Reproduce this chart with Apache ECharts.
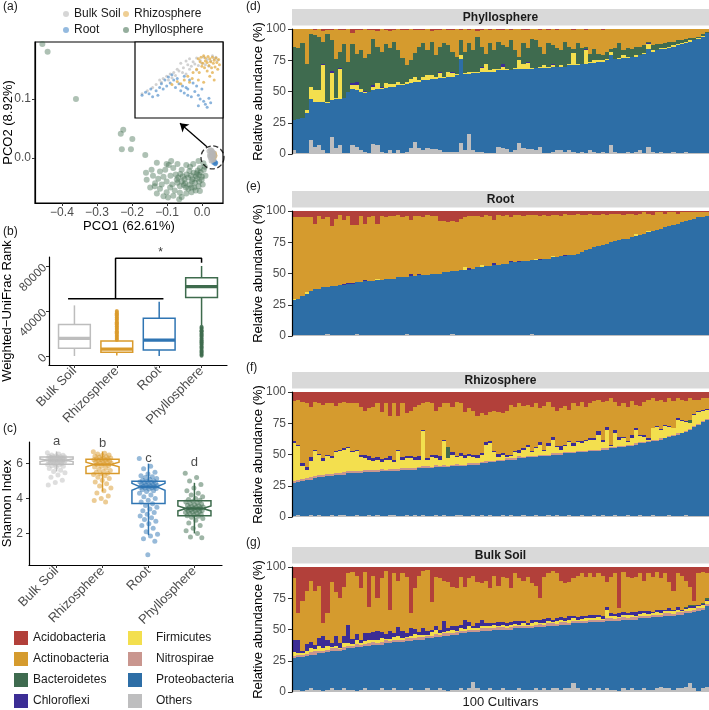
<!DOCTYPE html>
<html>
<head>
<meta charset="utf-8">
<script src="https://cdn.jsdelivr.net/npm/echarts/dist/echarts.min.js"></script>
<style>
  html, body { margin: 0; padding: 0; background: #fff; }
  #chart { width: 709px; height: 710px; }
</style>
</head>
<body>
<div id="chart"></div>
<script>
// ---------- data ----------
const groupNames = ['Bulk Soil', 'Rhizosphere', 'Root', 'Phyllosphere'];

// (a) PCoA coordinates
const phylloPcoa = [
  [-0.456, 0.193], [-0.441, 0.18], [-0.36, 0.1],
  [-0.225, 0.048], [-0.232, 0.041], [-0.199, 0.032], [-0.229, 0.015], [-0.203, 0.015], [-0.162, 0.005],
  [-0.129, -0.008], [-0.101, -0.01], [-0.144, -0.02], [-0.12, -0.023], [-0.082, -0.017], [-0.058, -0.02],
  [-0.034, -0.015], [-0.015, -0.026], [-0.006, -0.017], [0.004, -0.009],
  [-0.158, -0.037], [-0.134, -0.043], [-0.101, -0.04], [-0.072, -0.037], [-0.048, -0.043], [-0.029, -0.04],
  [-0.015, -0.035], [-0.001, -0.037], [-0.148, -0.05], [-0.12, -0.052], [-0.091, -0.05], [-0.063, -0.048],
  [-0.039, -0.052], [-0.01, -0.048], [0.01, -0.03], [-0.129, -0.06], [-0.101, -0.058], [-0.082, -0.064],
  [-0.058, -0.066], [-0.097, -0.067], [-0.063, -0.059], [-0.03, -0.058], [-0.006, -0.056],
  [-0.075, -0.028], [-0.068, -0.033], [-0.062, -0.027], [-0.055, -0.031], [-0.05, -0.036], [-0.044, -0.028],
  [-0.04, -0.033], [-0.035, -0.045], [-0.031, -0.03], [-0.027, -0.036], [-0.024, -0.025], [-0.02, -0.042],
  [-0.017, -0.031], [-0.012, -0.021], [-0.008, -0.029], [-0.004, -0.024], [0.0, -0.032], [0.005, -0.02],
  [0.008, -0.015], [-0.052, -0.046], [-0.046, -0.05], [-0.022, -0.05], [-0.018, -0.055], [-0.07, -0.042],
  [-0.085, -0.045], [-0.09, -0.03], [-0.11, -0.032], [-0.115, -0.045], [-0.105, -0.02], [-0.095, -0.012],
  [-0.088, -0.005], [-0.07, -0.01], [-0.045, -0.012], [-0.025, -0.01], [-0.01, -0.005], [-0.14, -0.03],
  [-0.16, -0.025], [-0.125, -0.035], [-0.078, -0.055], [-0.065, -0.07], [-0.045, -0.06], [-0.11, -0.065],
  [-0.135, -0.048], [0.002, -0.045], [-0.036, -0.022], [-0.058, -0.04], [-0.03, -0.05], [-0.008, -0.04]
];
const bulkPcoa = [[0.02, 0.012], [0.024, 0.014], [0.028, 0.013], [0.022, 0.006], [0.026, 0.008], [0.03, 0.007],
  [0.034, 0.009], [0.024, 0.0], [0.028, 0.002], [0.032, 0.003], [0.036, 0.004], [0.026, -0.005],
  [0.03, -0.004], [0.034, -0.003], [0.022, 0.003], [0.03, 0.011]];
const rhizoPcoa = [[0.036, 0.008], [0.038, 0.004], [0.035, 0.0]];
const rootPcoa = [[0.036, -0.006], [0.04, -0.008], [0.038, -0.01], [0.033, -0.008]];

// (a) inset: zoom of the soil / rhizosphere / root cluster
const insetBulk = [[52, 72], [58, 75], [62, 78], [66, 74], [70, 79], [74, 76], [78, 80], [82, 77], [86, 75], [90, 78],
  [60, 70], [55, 66], [64, 68], [68, 71], [72, 69], [76, 72], [80, 70], [84, 68], [48, 64], [44, 60],
  [40, 58], [50, 62], [36, 55], [32, 52], [28, 50], [46, 56], [54, 60], [62, 64], [70, 63], [88, 82],
  [92, 80], [94, 76], [20, 40], [14, 36], [8, 32], [24, 44], [30, 47], [38, 50], [42, 53], [58, 58]];
const insetRhizo = [[72, 78], [75, 80], [78, 82], [80, 79], [83, 81], [85, 78], [88, 80], [90, 76], [92, 79], [95, 77],
  [74, 74], [77, 72], [80, 75], [82, 73], [86, 74], [89, 72], [93, 73], [96, 70], [76, 68], [79, 66],
  [84, 69], [87, 66], [91, 67], [94, 64], [70, 64], [66, 60], [73, 60], [82, 62], [88, 60], [60, 55],
  [65, 52], [72, 50], [78, 47], [85, 55], [90, 50], [56, 50], [48, 48], [42, 44], [52, 45], [62, 47]];
const insetRoot = [[8, 30], [12, 34], [16, 32], [20, 28], [24, 36], [28, 40], [32, 38], [36, 42], [30, 45], [40, 46],
  [44, 50], [48, 52], [38, 54], [42, 57], [34, 50], [50, 45], [54, 42], [58, 40], [46, 40], [52, 36],
  [56, 33], [60, 30], [64, 28], [68, 35], [72, 30], [74, 25], [78, 22], [80, 18], [82, 14], [84, 26],
  [76, 38], [70, 42], [66, 46], [62, 50], [56, 55], [60, 38], [72, 16], [86, 20], [26, 30], [18, 38]];

// (b) Weighted-UniFrac rank: [lower whisker, Q1, median, Q3, upper whisker]
const unifracBox = [
  [0, 7000, 15700, 28000, 45000],
  [500, 3300, 6200, 13300, 14000],
  [0, 5300, 14200, 33500, 48300],
  [27000, 52100, 61600, 69600, 80000]
];
const rhizoUnifracOut = [14200, 15100, 16000, 17200, 18100, 19000, 20300, 21100, 22000, 23400, 24200, 25100, 26300,
  27000, 28200, 29100, 30000, 31200, 32400, 33100, 34300, 35000, 36200, 37100, 38000, 39200, 40100];
const phylloUnifracOut = [200, 1100, 2000, 3200, 4100, 5000, 6200, 7300, 8100, 9000, 10200, 11100, 12300, 13000,
  14100, 15200, 16000, 17300, 18200, 19100, 20000, 21300, 22100, 23000, 24200, 25100, 26000];

// (c) Shannon index
const bulkShannon = [6.62, 6.55, 6.5, 6.48, 6.45, 6.42, 6.4, 6.4, 6.38, 6.36, 6.35, 6.33, 6.32, 6.3, 6.28, 6.27,
  6.25, 6.24, 6.22, 6.21, 6.2, 6.19, 6.18, 6.16, 6.15, 6.13, 6.12, 6.1, 6.08, 6.06, 6.05, 6.03, 6.0, 5.98,
  5.95, 5.92, 5.88, 5.85, 5.8, 5.72, 5.62, 5.55, 5.48, 5.35, 5.22, 5.05, 4.92, 4.78];
const rhizoShannon = [6.68, 6.6, 6.55, 6.5, 6.46, 6.42, 6.4, 6.36, 6.33, 6.3, 6.28, 6.26, 6.24, 6.22, 6.2, 6.18,
  6.15, 6.12, 6.1, 6.08, 6.05, 6.02, 5.98, 5.95, 5.9, 5.85, 5.8, 5.74, 5.68, 5.6, 5.55, 5.5, 5.45, 5.42,
  5.38, 5.3, 5.22, 5.15, 5.05, 4.95, 4.85, 4.72, 4.6, 4.45, 4.32, 4.15, 4.0, 3.88, 3.8];
const rootShannon = [6.3, 5.85, 5.7, 5.5, 5.4, 5.3, 5.25, 5.2, 5.15, 5.1, 5.05, 5.0, 4.98, 4.95, 4.92, 4.9, 4.88,
  4.85, 4.82, 4.8, 4.78, 4.75, 4.72, 4.7, 4.68, 4.66, 4.64, 4.62, 4.6, 4.57, 4.55, 4.5, 4.45, 4.4, 4.3,
  4.2, 4.1, 4.0, 3.9, 3.8, 3.7, 3.6, 3.5, 3.4, 3.3, 3.2, 3.1, 3.0, 2.9, 2.8, 2.7, 2.55, 2.45, 2.3, 2.1,
  1.95, 1.85, 1.7, 1.55, 0.78];
const phylloShannon = [5.45, 5.2, 5.0, 4.8, 4.6, 4.45, 4.3, 4.2, 4.1, 4.0, 3.95, 3.9, 3.85, 3.8, 3.76, 3.72, 3.68,
  3.65, 3.62, 3.58, 3.55, 3.52, 3.5, 3.47, 3.45, 3.43, 3.4, 3.38, 3.35, 3.32, 3.3, 3.27, 3.25, 3.22, 3.2,
  3.17, 3.14, 3.1, 3.06, 3.02, 2.98, 2.92, 2.85, 2.75, 2.6, 2.45, 2.3, 2.15, 2.0, 1.8, 1.75];
// [lower whisker, Q1, median, Q3, upper whisker, notch half-height]
const shannonBox = [
  [5.55, 5.96, 6.19, 6.38, 6.7, 0.07],
  [4.4, 5.43, 5.95, 6.25, 6.7, 0.13],
  [1.9, 3.71, 4.67, 4.99, 6.0, 0.2],
  [2.0, 3.01, 3.43, 3.87, 4.9, 0.14]
];
const shannonLetters = ['a', 'b', 'c', 'd'];
const shannonLetterY = [7.3, 7.18, 6.32, 6.09];

// (d)-(g) relative abundance, 100 cultivars each (Others / Acidobacteria etc. = band thickness, *Top = upper band edge)
const cultivars = Array.from({ length: 100 }, (_, i) => 'Cultivar ' + (i + 1));

const phylloOthers = [3,1,0.5,1,11,6,7,3,1,14, 5,7,1,1,7,6,3,2,1,8, 7,2,1,3,1,3,0.5,2,5,10,
  5,3,5,4,4,3,2,2,2,2, 9,3,16,3,2,2,1,1,1,6, 5,4,2,3,9,5,4,4,3,6, 1,0.5,2,3,3,2,3,2,1,2,
  1,3,2,1,2,1,7,2,1,1, 2,1,2,3,1,6,2,1,2,1, 1,2,1,1,2,1,1,1,0.5,1];
const phylloProteoTop = [27,28,29,33,44,42,42,42,41,43, 44,44,45,50,52,51,50,49,50,51,
  52,52,53,54,54,55,55,56,57,58, 58,59,59,60,60,61,61,62,62,63, 76,64,64,65,65,66,66,66,66,67,
  67,67,67,68,68,68,68,68,69,69, 69,69,70,70,70,70,71,71,71,72, 72,73,73,74,74,75,79,76,76,77,
  77,78,78,79,80,84,82,83,84,84, 85,86,87,88,89,90,91,92,94,97];
const phylloFirm = [0,0,0,2,10,9,9,29,1,22, 1,24,0,0,3,4,2,1,0,3, 5,1,4,2,2,3,1,2,3,4,
  1,3,4,3,2,4,1,4,3,1, 3,1,2,1,1,3,6,1,2,1, 3,1,0,1,7,4,5,1,0,1, 2,1,1,0,1,0,1,10,1,0,
  11,1,2,1,1,1,3,0,1,2, 1,0,1,0,1,4,1,0,1,1, 1,1,1,1,1,1,0,1,0.5,0];
const phylloChloro = [0,0,0,0,0,0,0,1,0,1.5, 0,1,0,0,2,2.5,0,0.5,0,1, 0,0.5,0,0,0,0,0,0,0,0,
  0,0,0,0,0,1,0,0,1,0, 0,0,0,0,0,1,0,0,0,0, 2,0,0,0,0,0,1,0,0,0, 0,0,1,0,0,0,0,0,0,0,
  1,0,0,0,0,0,0,0,0,0, 0,0,0,0,0,0.5,0,0,0,0, 0,0,0,0,0,0,0,0,0,0];
const phylloBactTop = [86,85,89,72,96,95,94,90,96,91, 76,82,88,74,88,80,83,77,80,92,
  86,82,88,85,90,83,77,71,75,81, 86,89,83,90,79,86,89,87,82,78, 91,82,89,83,94,86,80,89,83,90,
  87,86,91,83,78,89,85,92,91,86, 80,89,87,85,83,90,86,84,89,85, 86,80,84,80,79,82,84,85,89,83,
  85,84,86,86,87,90,87,88,88,89, 90,90,91,91,92,93,93,94,96,98];
const phylloAcido = [0,0,0,0,0,0.5,0,1.5,1,0.5, 0,1,0.5,0,3,1,0.5,0,1,0.5, 1.5,0,1,1.5,0.5,0,1,0.5,0,1,
  0.5,1,0,1.5,0.5,1,0,0.5,1,0, 1,0,0.5,0,1.5,0.5,0,0.5,0,0.5, 1,0,0.5,0,0,1,0.5,0,0,0.5,
  0,1,0,0.5,0,0,0,0.5,0,0, 0.5,0,0,0,0.5,0,0,0,0,0, 0,0,0,0,0,0,0,0,0,0, 0,0,0,0,0,0,0,0,0,0];

const rootOthers = [1,1,0.5,1,1,0.5,1,1,1.5,1, 1,0.5,1,1,1,1.5,1,0.5,1,1, 1,1,1,0.5,1,1,1,1.5,1,1,
  1,0.5,1,1,1,1,1,1,1.5,1, 1,1,1,0.5,1,1,1,1,1,1, 1,1,0.5,1,1,1,1,1.5,1,1, 1,1,1,1,0.5,1,1,1,1,1,
  1,0.5,1,1,1,1,1,1,1,1, 0.5,1,1,1,1,1,1,1,0.5,1, 1,1,1,1,1,0.5,1,1,1,1];
const rootProteoTop = [29,30,32,34,36,38,38,39,39,40, 40,41,41,42,42,43,43,44,44,44,
  45,45,46,46,46,47,47,47,48,48, 49,49,49,50,50,50,51,51,52,52, 53,53,53,54,55,55,56,56,57,57,
  58,58,59,59,59,60,60,61,61,61, 62,62,63,63,64,64,65,65,66,67, 69,70,71,72,73,74,75,76,77,78,
  78,79,80,81,82,83,84,85,86,87, 88,89,90,91,92,93,94,95,95,96];
const rootFirm = [1,0,0,1,0,0,0,0,0.5,0, 0,0,0,0,0,0,0,0,0,0, 1,0,0,0,0,0,0,0,0,0,
  0,0,0,0,0,0,0,0,0,0, 0,2,0,0,0,1.5,0,0,0,0, 0,0,0,0,0,0,0,0,1,0, 0,0,1,0,0,0,0,0,0,0,
  0,0,0,0,0,0,0,0,0,0, 0,0,2,0,0,1,0,0,0,0, 0,0,0,0,0,0,0,0,0,0];
const rootChloro = [0,0,0,0,0,0,0,0,0,0, 0,0,0.5,0.5,0.5,0.5,0.5,0.5,0,0, 0,0,0,0,0,0,0,0,1.5,0,
  1,0,0,0,0,0,0,0,0,0, 0,0,1.5,0,0,0,0,0,1.5,0, 0,0,1,0,1,0,0,0,0,1, 0,0,0,0,0,0.5,0,0,0,0,
  0,0,0,0,0,0,0,0,0,0, 0,0,0,0,0,0,0,0,0,0, 0,0,0,0,0,0,0,0,0,0];
const rootAcido = [5,5,5,5,5,10,4,6,5,12, 6,3,7,4,11,11,4,10,5,4, 10,4,5,4,4,3,5,4,7,4,
  4,5,3,4,4,8,8,9,8,9, 6,5,4,4,4,5,3,4,7,3, 4,3,5,3,3,4,3,3,3,4, 3,4,3,3,4,2,3,3,2,3,
  3,2,3,3,2,3,2,2,2,3, 2,2,3,2,1,2,3,1,1,2, 1,1,2,1,1,1,0.5,0.5,0.5,0.5];

const rhizoOthers = [1,2,1,1,2,1,2,1,1,2, 1,2,2,1,1,2,1,1,2,1, 2,1,1,2,2,1,1,2,1,2,
  1,2,1,1,2,1,2,1,1,2, 2,1,1,2,1,2,1,2,1,1, 2,1,2,1,1,2,1,1,2,1, 1,2,1,2,1,1,2,1,1,2,
  1,1,2,1,2,1,1,2,1,1, 2,1,1,2,1,1,2,1,1,1, 2,1,1,1,2,1,1,1,1,1];
const rhizoProteoTop = [27,28,29,30,30,31,32,32,33,33, 34,34,34,35,35,35,35,36,36,36,
  36,37,37,37,37,37,38,38,38,38, 39,39,39,39,40,40,40,40,41,41, 41,41,42,42,42,43,43,44,44,45,
  45,46,46,46,47,47,48,48,48,49, 49,49,50,50,50,51,51,51,52,52, 52,53,53,53,54,54,55,55,56,56,
  57,57,58,59,59,60,61,61,62,63, 64,65,66,67,68,70,72,74,76,78];
const rhizoNitro = [1.5,2,1.5,1.5,2,1.5,1.5,2,1.5,1.5, 1.5,1.5,2,1.5,1.5,1.5,1.5,1.5,2,1.5,
  1.5,1.5,1,1.5,1.5,1.5,1.5,1,1.5,1.5, 1,1.5,1.5,1,1.5,1,1.5,1,1,1.5, 1,1,1.5,1,1,1,1.5,1,1,1,
  1,1,1,1,1.5,1,1,1,1,1, 1,1,1,1,1,1,1,1,1,1, 1,1,1,1,1,1,1,1,1,1,
  1,1,1,1,1,1,1,1,1,0.5, 1,0.5,1,0.5,1,0.5,1,0.5,1,0.5];
const rhizoFirmTop = [59,57,41,38,45,53,50,45,49,47, 52,53,54,55,52,53,48,47,46,45,
  46,44,46,46,44,53,46,47,47,46, 46,69,46,48,47,46,61,47,50,48, 49,47,49,48,47,50,58,59,52,48,
  50,48,49,52,51,54,56,52,55,58, 53,57,62,56,54,57,60,57,60,59, 61,62,62,66,60,70,57,67,62,63,
  60,63,70,65,64,62,71,72,70,73, 72,71,78,77,76,75,82,84,85,86];
const rhizoChloro = [1.5,1,2,2,3,1,0.5,2.5,0.5,2, 1,1,1.5,1,0.5,0.5,2,2.5,3,2.5,
  2,2.5,1,2.5,1.5,1,2,2,2,2, 2.5,1,1,2,2.5,3,1,0,2,1, 2,2.5,1.5,2,3,1,2,2,1,2.5,
  1,2,1,1,3,1,2,1,1,2, 1,2,2,1,3,1,1,2.5,1,1.5, 1,1,1,3,2,2,0.5,3,2,1,
  1,3,1,1,2,1,0.5,1,0.5,0.5, 0.5,0.5,1,0.5,1,0,0.5,0.5,0.5,0.5];
const rhizoBact = [0,0,0,0,0,0,0,0,0,0, 0,0,0,0,0,0,0,0,0,0, 0,0,0,0,0,0,0,0,0,0,
  0,0,0,0,0,0,0,9,0,0, 0,0,0,0,0,0,0,0,0,0, 0,0,0,0,0,0,0,0,0,0, 0,0,0,0,0,0,0,0,0,0,
  0,0,0,0,0,0,0,0,0,0, 0,0,0,0,0,0,0,0,0,0, 0,0,0,0,0,3,0,0,0,0];
const rhizoAcido = [7,6,8,9,12,8,9,10,9,9, 11,9,8,9,9,9,12,15,13,12, 9,16,9,19,9,19,9,17,15,12,
  10,9,8,9,15,12,9,9,12,8, 9,16,13,15,19,17,18,16,15,16, 17,15,10,12,9,11,10,12,9,13,
  11,8,12,15,13,11,14,9,11,8, 12,9,7,6,8,7,5,8,11,9, 12,7,10,11,8,6,5,7,6,8, 5,7,5,6,7,5,6,6,5,5];

const bulkOthers = [2,2,1,2,3,2,2,1,2,3, 2,2,3,2,2,1,2,3,2,2, 2,3,2,2,3,2,2,2,3,2,
  2,2,3,2,2,3,2,1,2,2, 3,2,3,8,3,2,2,3,2,2, 3,2,2,2,3,2,2,2,3,2, 3,2,3,3,2,3,3,7,3,2,
  2,3,2,3,2,3,2,2,1,3, 2,3,2,2,3,2,2,3,4,3, 3,2,3,3,4,7,3,0.5,3,4];
const bulkProteoTop = [27,28,28,29,30,30,31,31,32,33, 33,33,34,35,35,36,36,37,37,38,
  38,38,39,39,40,40,40,41,41,42, 42,42,43,43,44,44,45,45,46,46, 47,47,48,48,48,49,49,49,50,50,
  50,50,50,51,51,51,51,51,52,52, 52,53,53,53,54,54,54,55,55,55, 55,56,56,56,56,57,57,57,57,58,
  58,58,58,59,59,59,60,60,60,61, 61,61,62,62,63,63,64,65,66,69];
const bulkNitro = [2,1.5,2,1.5,2,2.5,1.5,2,1.5,2, 2,1.5,2,2,1.5,2.5,2,1.5,2,2, 1.5,2,2.5,1.5,2,2,1.5,2,2,1.5,
  2,2,1.5,2,2.5,1.5,2,2,1.5,2, 2,1.5,2,2,1.5,2,2.5,2,1.5,2, 2,1.5,2,1.5,2,2,1.5,2,2,2.5,
  1.5,2,2,1.5,2,2,1.5,2,2,1.5, 2,2,1.5,2,1.5,2,2,1.5,2,2, 1.5,2,2,1.5,2,1.5,2,2,1.5,2,
  2,1.5,2,2,1.5,2,1.5,2,1.5,1.5];
const bulkFirm = [3,2,1,2,3,2,4,2,3,1, 2,1,3,2,2,3,1,2,3,2, 2,3,1,2,2,3,2,1,2,3,
  2,2,1,3,3,2,1,2,2,1, 2,2,3,1,2,2,1,2,2,1, 2,1,2,2,1,2,1,2,2,1, 2,2,1,2,2,1,2,2,1,2,
  2,1,2,2,1,7,2,2,1,2, 2,2,1,2,2,2,1,2,2,2, 2,2,2,1,2,2,2,2,2,2];
const bulkChloro = [10,10,2,6,5,3,7,10,5,3, 8,4,6,15,4,5,3,7,5,6, 7,5,4,6,3,7,5,3,6,4,
  2,5,3,2,3,2,9,2,3,4, 3,7,3,2,4,5,3,2,2,3, 2,3,2,2,3,2,2,3,2,2, 3,2,2,3,2,2,3,2,2,2,
  2,3,2,2,2,2,2,2,3,2, 2,2,3,2,2,2,1,2,2,1, 2,1,2,1,1,2,1,1,1,1];
const bulkBact = [0,0,0,0,0,0,0,0,0,0, 0,0,0,0,0,0,0,0,0,0, 0,0,0,0,0,0,0,0,0,0,
  0,0,0,0,0,0,0,0,0,0, 0,0,0,0,0,0,0,0,0,0, 0,0,0,0,0,0,0,0,0,0, 0,0,0,0,0,0,0,0,0,0,
  0,0,0,0,0,0,0,0,0,0, 0,0,0,0,0,0,0,0,0.5,0, 0,0,0,0,0.5,1,1.5,0,1,2];
const bulkAcido = [9,37,27,19,11,19,15,45,37,12, 20,25,16,5,4,7,17,4,32,7, 25,9,3,34,5,11,5,8,37,17,
  7,3,2,28,8,9,11,12,16,17, 8,16,9,7,12,13,11,17,7,15, 8,9,17,5,9,11,8,13,15,25,
  8,5,3,5,11,13,12,9,7,5, 8,5,8,5,7,12,8,5,33,4, 8,9,8,5,11,5,8,4,9,5, 12,19,5,7,11,16,27,5,4,5];

// ---------- styles ----------
const FONT = '"Liberation Sans", Arial, Helvetica, sans-serif';
const TICK_GREY = '#4d4d4d';
const groupColors = ['#bdbdbd', '#d99a2b', '#2f75b3', '#3e6b4d'];
const PHYLUM_COLORS = {
  Acidobacteria: '#b2403a', Actinobacteria: '#d59b2e', Bacteroidetes: '#3f6b4f', Chloroflexi: '#3c2d95',
  Firmicutes: '#f3df4e', Nitrospirae: '#c9968f', Proteobacteria: '#2d6ea6', Others: '#bebebf'
};

const chart = echarts.init(document.getElementById('chart'));

function plainAxis(grid, extra) {
  return Object.assign({
    gridIndex: grid, type: 'value', splitLine: { show: false }, nameMoveOverlap: false,
    axisLine: { show: true, onZero: false, lineStyle: { color: '#000', width: 1.2 } },
    axisTick: { show: true, length: 3, lineStyle: { color: '#333' } },
    axisLabel: { fontSize: 12, color: TICK_GREY, fontFamily: FONT },
    nameTextStyle: { fontSize: 13, color: '#000', fontFamily: FONT }
  }, extra);
}

// stacked bars drawn as pixel-snapped rectangles so neighbouring cultivars meet without seams
function stackRenderer(color) {
  return (params, api) => {
    const c = api.coord([api.value(0), api.value(1)]);
    const t = api.coord([api.value(0), api.value(2)]);
    const bw = api.size([1, 0])[0];
    const x0 = Math.round(c[0] - bw / 2), x1 = Math.round(c[0] + bw / 2);
    const y0 = Math.round(c[1]), y1 = Math.round(t[1]);
    if (y0 <= y1) return null;
    return { type: 'rect', shape: { x: x0, y: y1, width: x1 - x0, height: y0 - y1 },
      style: { fill: color, opacity: 1 } };
  };
}

function abundanceSeries(k, p) {
  const parts = { Others: [], Proteobacteria: [], Nitrospirae: [], Firmicutes: [], Chloroflexi: [],
    Bacteroidetes: [], Actinobacteria: [], Acidobacteria: [] };
  for (let i = 0; i < cultivars.length; i++) {
    const nitro = p.nitro ? p.nitro[i] : 0;
    const ch = p.chloro ? p.chloro[i] : 0;
    const f = p.firmTop ? Math.max(0, p.firmTop[i] - p.proteoTop[i] - nitro) : (p.firm ? p.firm[i] : 0);
    const below = p.proteoTop[i] + nitro + f + ch;
    const b = p.bactTop ? Math.max(0, p.bactTop[i] - below) : (p.bact ? p.bact[i] : 0);
    parts.Others.push(p.others[i]);
    parts.Proteobacteria.push(p.proteoTop[i] - p.others[i]);
    parts.Nitrospirae.push(nitro);
    parts.Firmicutes.push(f);
    parts.Chloroflexi.push(ch);
    parts.Bacteroidetes.push(b);
    parts.Actinobacteria.push(Math.max(0, 100 - below - b - p.acido[i]));
    parts.Acidobacteria.push(p.acido[i]);
  }
  const present = { Nitrospirae: !!p.nitro, Firmicutes: !!(p.firm || p.firmTop), Chloroflexi: !!p.chloro,
    Bacteroidetes: !!(p.bact || p.bactTop) };
  const base = cultivars.map(() => 0);
  const list = [];
  Object.keys(parts).forEach(name => {
    const vals = parts[name];
    const data = vals.map((v, i) => {
      const lo = base[i];
      base[i] = Math.min(100, lo + v);
      return [i, lo, base[i]];
    });
    if (present[name] === false) return;
    list.push({ type: 'custom', name, xAxisIndex: k, yAxisIndex: k, silent: true,
      itemStyle: { color: PHYLUM_COLORS[name] }, data, encode: { x: 0, y: [1, 2] },
      renderItem: stackRenderer(PHYLUM_COLORS[name]) });
  });
  return list;
}

// deterministic horizontal spread for the jittered points in (c)
const jitter = i => (((i * 0.6180339887) % 1) - 0.5) * 0.4;

const series = [];

// (a) main PCoA
series.push({ type: 'scatter', name: 'Phyllosphere', xAxisIndex: 0, yAxisIndex: 0, data: phylloPcoa,
  symbolSize: 6, itemStyle: { color: '#3e6b4d', opacity: 0.42 }, silent: true });
series.push({ type: 'scatter', name: 'Root', xAxisIndex: 0, yAxisIndex: 0, data: rootPcoa,
  symbolSize: 4.5, itemStyle: { color: '#3d82c4', opacity: 0.8 }, silent: true });
series.push({ type: 'scatter', name: 'Rhizosphere', xAxisIndex: 0, yAxisIndex: 0, data: rhizoPcoa,
  symbolSize: 4.5, itemStyle: { color: '#e0a63a', opacity: 0.8 }, silent: true });
series.push({ type: 'scatter', name: 'Bulk Soil', xAxisIndex: 0, yAxisIndex: 0, data: bulkPcoa,
  symbolSize: 5, itemStyle: { color: '#b5b5b5', opacity: 0.75 }, silent: true });
series.push({ type: 'scatter', xAxisIndex: 0, yAxisIndex: 0, data: [[0.03, 0.001]], symbolSize: 23, silent: true,
  itemStyle: { color: 'rgba(0,0,0,0)', borderColor: '#000', borderWidth: 1.3, borderType: 'dashed' },
  markLine: { silent: true, symbol: ['none', 'arrow'], symbolSize: 8, label: { show: false },
    lineStyle: { color: '#000', width: 1.3, type: 'solid' },
    data: [[{ coord: [0.014, 0.019] }, { coord: [-0.063, 0.059] }]] } });
// (a) inset
series.push({ type: 'scatter', name: 'Bulk Soil', xAxisIndex: 1, yAxisIndex: 1, data: insetBulk,
  symbolSize: 3, itemStyle: { color: '#bdbdbd', opacity: 0.7 }, silent: true, z: 6 });
series.push({ type: 'scatter', name: 'Root', xAxisIndex: 1, yAxisIndex: 1, data: insetRoot,
  symbolSize: 3, itemStyle: { color: '#3d82c4', opacity: 0.6 }, silent: true, z: 6 });
series.push({ type: 'scatter', name: 'Rhizosphere', xAxisIndex: 1, yAxisIndex: 1, data: insetRhizo,
  symbolSize: 3, itemStyle: { color: '#e0a63a', opacity: 0.7 }, silent: true, z: 6 });

// (b) boxes
series.push({
  type: 'custom', xAxisIndex: 2, yAxisIndex: 2, silent: true,
  data: unifracBox.map((b, i) => [i + 1].concat(b)),
  encode: { x: 0, y: [1, 2, 3, 4, 5] },
  renderItem: (params, api) => {
    const x = api.value(0), lo = api.value(1), q1 = api.value(2), md = api.value(3), q3 = api.value(4), hi = api.value(5);
    const col = groupColors[params.dataIndex];
    const w = 0.375;
    const p = (a, b) => api.coord([a, b]);
    const seg = (a, b, lw) => ({ type: 'line', shape: { x1: a[0], y1: a[1], x2: b[0], y2: b[1] },
      style: { stroke: col, lineWidth: lw } });
    const tl = p(x - w, q3), br = p(x + w, q1);
    return { type: 'group', children: [
      seg(p(x, lo), p(x, q1), 1.5), seg(p(x, q3), p(x, hi), 1.5),
      { type: 'rect', shape: { x: tl[0], y: tl[1], width: br[0] - tl[0], height: br[1] - tl[1] },
        style: { fill: '#fff', stroke: col, lineWidth: 1.5 } },
      seg(p(x - w, md), p(x + w, md), 3.2)
    ] };
  }
});
series.push({ type: 'scatter', xAxisIndex: 2, yAxisIndex: 2, silent: true, symbolSize: 4,
  data: rhizoUnifracOut.map(v => [2, v]), itemStyle: { color: groupColors[1] } });
series.push({ type: 'scatter', xAxisIndex: 2, yAxisIndex: 2, silent: true, symbolSize: 4,
  data: phylloUnifracOut.map(v => [4, v]), itemStyle: { color: groupColors[3] } });
series.push({ type: 'line', xAxisIndex: 2, yAxisIndex: 2, silent: true, symbol: 'none',
  data: [[0.85, 51000], [3.1, 51000]], lineStyle: { color: '#000', width: 1.5 } });
series.push({ type: 'line', xAxisIndex: 2, yAxisIndex: 2, silent: true, symbol: 'none',
  data: [[1.97, 51000], [1.97, 87000], [4, 87000], [4, 83000]], lineStyle: { color: '#000', width: 1.5 } });
series.push({ type: 'scatter', xAxisIndex: 2, yAxisIndex: 2, silent: true, clip: false, symbolSize: 1,
  itemStyle: { color: 'rgba(0,0,0,0)' }, data: [[3.03, 91500]],
  label: { show: true, formatter: '*', position: 'inside', fontSize: 12, color: '#000' } });

// (c) notched boxes + points
series.push({
  type: 'custom', xAxisIndex: 3, yAxisIndex: 3, silent: true,
  data: shannonBox.map((b, i) => [i + 1].concat(b)),
  encode: { x: 0, y: [1, 2, 3, 4, 5] },
  renderItem: (params, api) => {
    const x = api.value(0), lo = api.value(1), q1 = api.value(2), md = api.value(3), q3 = api.value(4),
      hi = api.value(5), nh = api.value(6);
    const col = groupColors[params.dataIndex];
    const w = 0.36;
    const p = (a, b) => api.coord([a, b]);
    const seg = (a, b, lw) => ({ type: 'line', shape: { x1: a[0], y1: a[1], x2: b[0], y2: b[1] },
      style: { stroke: col, lineWidth: lw } });
    const pts = [p(x - w, q3), p(x + w, q3), p(x + w, md + nh), p(x + w / 2, md), p(x + w, md - nh),
      p(x + w, q1), p(x - w, q1), p(x - w, md - nh), p(x - w / 2, md), p(x - w, md + nh)];
    return { type: 'group', children: [
      seg(p(x, lo), p(x, q1), 1.5), seg(p(x, q3), p(x, hi), 1.5),
      { type: 'polygon', shape: { points: pts }, style: { fill: 'rgba(255,255,255,0)', stroke: col, lineWidth: 1.5 } },
      seg(p(x - w / 2, md), p(x + w / 2, md), 2.5)
    ] };
  }
});
[bulkShannon, rhizoShannon, rootShannon, phylloShannon].forEach((vals, g) => {
  series.push({ type: 'scatter', xAxisIndex: 3, yAxisIndex: 3, silent: true, symbolSize: 5,
    itemStyle: { color: groupColors[g], opacity: 0.5 },
    data: vals.map((v, i) => [g + 1 + jitter(i), v]) });
});
series.push({ type: 'scatter', xAxisIndex: 3, yAxisIndex: 3, silent: true, clip: false, symbolSize: 1,
  itemStyle: { color: 'rgba(0,0,0,0)' },
  data: shannonLetterY.map((y, i) => ({ value: [i + 1, y], label: { formatter: shannonLetters[i] } })),
  label: { show: true, position: 'inside', fontSize: 13, color: '#1a1a1a' } });

// (d)-(g)
series.push(...abundanceSeries(4, { others: phylloOthers, proteoTop: phylloProteoTop, firm: phylloFirm,
  chloro: phylloChloro, bactTop: phylloBactTop, acido: phylloAcido }));
series.push(...abundanceSeries(5, { others: rootOthers, proteoTop: rootProteoTop, firm: rootFirm,
  chloro: rootChloro, acido: rootAcido }));
series.push(...abundanceSeries(6, { others: rhizoOthers, proteoTop: rhizoProteoTop, nitro: rhizoNitro,
  firmTop: rhizoFirmTop, chloro: rhizoChloro, bact: rhizoBact, acido: rhizoAcido }));
series.push(...abundanceSeries(7, { others: bulkOthers, proteoTop: bulkProteoTop, nitro: bulkNitro,
  firm: bulkFirm, chloro: bulkChloro, bact: bulkBact, acido: bulkAcido }));

const barTops = [29, 211, 392, 567];
const stripTitles = ['Phyllosphere', 'Root', 'Rhizosphere', 'Bulk Soil'];
const panelLabels = [['(a)', 3, 7], ['(b)', 3, 232], ['(c)', 3, 429], ['(d)', 246, 7], ['(e)', 246, 187],
  ['(f)', 246, 368], ['(g)', 246, 543]];

const graphic = [];
panelLabels.forEach(([t, x, y]) => graphic.push({ type: 'text', x, y,
  style: { text: t, fontSize: 12, fontFamily: FONT, fill: '#1a1a1a', verticalAlign: 'middle' } }));
barTops.forEach((top, i) => {
  graphic.push({ type: 'rect', shape: { x: 292, y: top - 20, width: 417, height: 16.5 },
    style: { fill: '#d9d9d9' } });
  graphic.push({ type: 'text', x: 500.5, y: top - 11.7, style: { text: stripTitles[i], fontSize: 12,
    fontWeight: 'bold', fontFamily: FONT, fill: '#1a1a1a', align: 'center', verticalAlign: 'middle' } });
});

const groupLabel = v => groupNames[Math.round(v) - 1];
const signed = v => (v < 0 ? '\u2212' : '') + Math.abs(v).toFixed(1);

const xAxis = [
  plainAxis(0, { min: -0.477, max: 0.06, name: 'PCO1 (62.61%)', nameLocation: 'middle', nameGap: 17,
    axisLabel: { fontSize: 12, color: TICK_GREY, margin: 4, formatter: signed, customValues: [-0.4, -0.3, -0.2, -0.1, 0] },
    axisTick: { show: true, length: 3, lineStyle: { color: '#333' }, customValues: [-0.4, -0.3, -0.2, -0.1, 0] } }),
  { gridIndex: 1, type: 'value', min: 0, max: 100, show: false },
  plainAxis(2, { min: 0.4, max: 4.6,
    axisLabel: { fontSize: 13, color: TICK_GREY, rotate: 45, margin: 4, formatter: groupLabel, customValues: [1, 2, 3, 4] },
    axisTick: { show: true, length: 3, lineStyle: { color: '#333' }, customValues: [1, 2, 3, 4] } }),
  plainAxis(3, { min: 0.4, max: 4.6,
    axisLabel: { fontSize: 13, color: TICK_GREY, rotate: 45, margin: 4, formatter: groupLabel, customValues: [1, 2, 3, 4] },
    axisTick: { show: true, length: 3, lineStyle: { color: '#333' }, customValues: [1, 2, 3, 4] } })
];
const yAxis = [
  plainAxis(0, { min: -0.0763, max: 0.1966, name: 'PCO2 (8.92%)', nameLocation: 'middle', nameGap: 20,
    axisLabel: { fontSize: 12, color: TICK_GREY, margin: 4, formatter: v => v.toFixed(1), customValues: [0, 0.1] },
    axisTick: { show: true, length: 3, lineStyle: { color: '#333' }, customValues: [0, 0.1] } }),
  { gridIndex: 1, type: 'value', min: 0, max: 100, show: false },
  plainAxis(2, { min: -8000, max: 88000, name: 'Weighted\u2212UniFrac Rank', nameLocation: 'middle', nameGap: 35,
    axisLabel: { fontSize: 12, color: TICK_GREY, rotate: 45, margin: 4, formatter: v => String(v),
      customValues: [0, 40000, 80000] },
    axisTick: { show: true, length: 3, lineStyle: { color: '#333' }, customValues: [0, 40000, 80000] } }),
  plainAxis(3, { min: 0.19, max: 7.24, name: 'Shannon Index', nameLocation: 'middle', nameGap: 15,
    axisLabel: { fontSize: 12, color: TICK_GREY, margin: 6, customValues: [2, 4, 6] },
    axisTick: { show: true, length: 3, lineStyle: { color: '#333' }, customValues: [2, 4, 6] } })
];
barTops.forEach((top, i) => {
  const k = i + 4;
  xAxis.push({ gridIndex: k, type: 'category', data: cultivars, boundaryGap: true,
    axisLine: { show: false }, axisTick: { show: false }, axisLabel: { show: false },
    name: k === 7 ? '100 Cultivars' : '', nameLocation: 'middle', nameGap: 4, nameMoveOverlap: false,
    nameTextStyle: { fontSize: 13, color: '#1a1a1a', fontFamily: FONT } });
  yAxis.push(plainAxis(k, { min: 0, max: 100, interval: 25, name: 'Relative abundance (%)',
    nameLocation: 'middle', nameGap: 27, z: 10,
    axisTick: { show: true, length: 4, lineStyle: { color: '#333' } },
    axisLabel: { fontSize: 12, color: TICK_GREY, margin: 6 } }));
});

const smallLegend = (left, top, data, extra) => Object.assign({
  orient: 'vertical', left, top, data, selectedMode: false, padding: 0,
  textStyle: { fontSize: 12, color: '#1a1a1a', fontFamily: FONT }
}, extra);

chart.setOption({
  animation: false,
  textStyle: { fontFamily: FONT },
  grid: [
    { left: 35, top: 42, width: 188, height: 161, show: true, borderColor: '#000', borderWidth: 1.2 },
    { left: 135, top: 42, width: 88, height: 76, show: true, borderColor: '#000', borderWidth: 1.2,
      backgroundColor: '#fff', z: 5 },
    { left: 48, top: 257, width: 179, height: 108 },
    { left: 28, top: 442, width: 194, height: 123 },
    { left: 292, top: barTops[0], width: 417, height: 125 },
    { left: 292, top: barTops[1], width: 417, height: 125 },
    { left: 292, top: barTops[2], width: 417, height: 125 },
    { left: 292, top: barTops[3], width: 417, height: 125 }
  ],
  legend: [
    smallLegend(63, 8, ['Bulk Soil', 'Root'], { icon: 'circle', itemWidth: 6, itemHeight: 6, itemGap: 4,
      itemStyle: { opacity: 0.55 } }),
    smallLegend(123, 8, ['Rhizosphere', 'Phyllosphere'], { icon: 'circle', itemWidth: 6, itemHeight: 6, itemGap: 4,
      itemStyle: { opacity: 0.55 } }),
    smallLegend(14, 631, ['Acidobacteria', 'Actinobacteria', 'Bacteroidetes', 'Chloroflexi'],
      { icon: 'rect', itemWidth: 14, itemHeight: 14, itemGap: 7, itemStyle: { borderWidth: 0 } }),
    smallLegend(128, 631, ['Firmicutes', 'Nitrospirae', 'Proteobacteria', 'Others'],
      { icon: 'rect', itemWidth: 14, itemHeight: 14, itemGap: 7, itemStyle: { borderWidth: 0 },
        textStyle: { fontSize: 12, color: '#1a1a1a', fontFamily: FONT, padding: [0, 0, 0, 9] } })
  ],
  xAxis, yAxis, series, graphic
});
</script>
</body>
</html>
